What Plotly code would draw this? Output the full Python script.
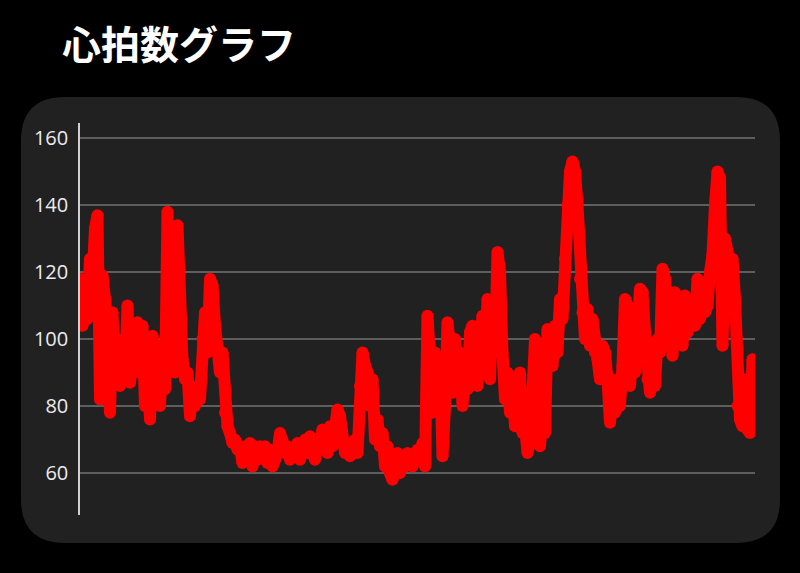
import plotly.graph_objects as go

# Heart-rate samples (bpm), evenly spaced in time
heart_rate = [
    118, 104, 112, 106, 124, 118, 133, 137, 82, 119, 112, 100, 78, 108, 88, 100,
    86, 95, 88, 110, 87, 95, 90, 105, 92, 104, 80, 90, 76, 101, 92, 98,
    80, 96, 85, 138, 100, 126, 90, 134, 98, 94, 88, 90, 77, 84, 80, 86,
    82, 100, 108, 96, 118, 116, 104, 98, 90, 96, 78, 74, 72, 69, 70, 67,
    68, 63, 68, 65, 69, 62, 68, 64, 68, 66, 68, 63, 67, 62, 64, 66,
    72, 70, 66, 68, 64, 67, 65, 69, 64, 68, 70, 66, 71, 66, 64, 70,
    67, 73, 72, 66, 74, 68, 72, 79, 77, 70, 66, 68, 65, 68, 70, 66,
    86, 96, 92, 90, 80, 88, 70, 76, 68, 72, 62, 68, 60, 58, 62, 66,
    60, 64, 62, 66, 63, 62, 65, 67, 64, 69, 62, 107, 94, 78, 96, 88,
    94, 65, 80, 105, 98, 84, 100, 88, 96, 80, 92, 85, 102, 104, 90, 86,
    98, 107, 92, 112, 88, 110, 96, 126, 120, 96, 82, 90, 78, 86, 74, 84,
    90, 72, 74, 66, 70, 84, 100, 92, 68, 78, 72, 103, 100, 92, 104, 96,
    112, 106, 124, 140, 150, 153, 150, 140, 118, 108, 100, 109, 98, 106, 96, 94,
    88, 98, 96, 88, 75, 84, 78, 88, 80, 92, 112, 110, 86, 96, 90, 100,
    115, 114, 102, 88, 84, 98, 86, 100, 96, 121, 118, 98, 112, 95, 114, 100,
    110, 98, 113, 102, 108, 112, 104, 118, 106, 114, 108, 110, 120, 125, 140, 150,
    148, 98, 130, 126, 118, 124, 112, 80, 76, 74, 88, 73, 72, 94,
]
time_index = list(range(len(heart_rate)))

y_ticks = [60, 80, 100, 120, 140, 160]
title_text = "心拍数グラフ"

# ---- layout geometry (pixels) ----
W, H = 800, 573
PL, PR, PT, PB = 80, 755, 123, 515  # plot area


def px_to_paper(x, y):
    return (x - PL) / (PR - PL), (PB - y) / (PB - PT)


def rounded_rect(x0, y0, x1, y1, r):
    def P(x, y):
        px, py = px_to_paper(x, y)
        return f"{px:.5f},{py:.5f}"
    path = f"M {P(x0 + r, y0)} L {P(x1 - r, y0)} Q {P(x1, y0)} {P(x1, y0 + r)} "
    path += f"L {P(x1, y1 - r)} Q {P(x1, y1)} {P(x1 - r, y1)} "
    path += f"L {P(x0 + r, y1)} Q {P(x0, y1)} {P(x0, y1 - r)} "
    path += f"L {P(x0, y0 + r)} Q {P(x0, y0)} {P(x0 + r, y0)} Z"
    return path


fig = go.Figure()
fig.add_trace(go.Scatter(
    x=time_index, y=heart_rate, mode="lines+markers",
    line=dict(color="#ff0000", width=12),
    marker=dict(color="#ff0000", size=12, line=dict(width=0)),
    hoverinfo="skip", showlegend=False,
))

fig.add_shape(type="path", xref="paper", yref="paper",
              path=rounded_rect(21, 97, 780, 543, 44),
              fillcolor="#212121", line=dict(width=0), layer="below")

tx, ty = px_to_paper(60, 42)
fig.add_annotation(text="<b>" + title_text + "</b>", xref="paper", yref="paper",
                   x=tx, y=ty, xanchor="left", yanchor="middle", showarrow=False,
                   font=dict(size=39, color="#ffffff", family="Noto Sans CJK JP"))

fig.update_layout(
    width=W, height=H,
    margin=dict(l=PL, r=W - PR, t=PT, b=H - PB, pad=0),
    paper_bgcolor="#000000", plot_bgcolor="rgba(0,0,0,0)",
    showlegend=False,
    xaxis=dict(range=[0, len(heart_rate)], showgrid=False, zeroline=False,
               showticklabels=False, showline=False, fixedrange=True),
    yaxis=dict(range=[47.5, 164.5], tickvals=y_ticks, showgrid=True,
               gridcolor="#5e5e5e", gridwidth=1.5, zeroline=False,
               showline=True, linecolor="#d0d0d0", linewidth=1.5,
               ticks="", ticklabelstandoff=6,
               tickfont=dict(size=20, color="#ececec", family="Open Sans, Arial")),
)

fig.write_html("out.html")
